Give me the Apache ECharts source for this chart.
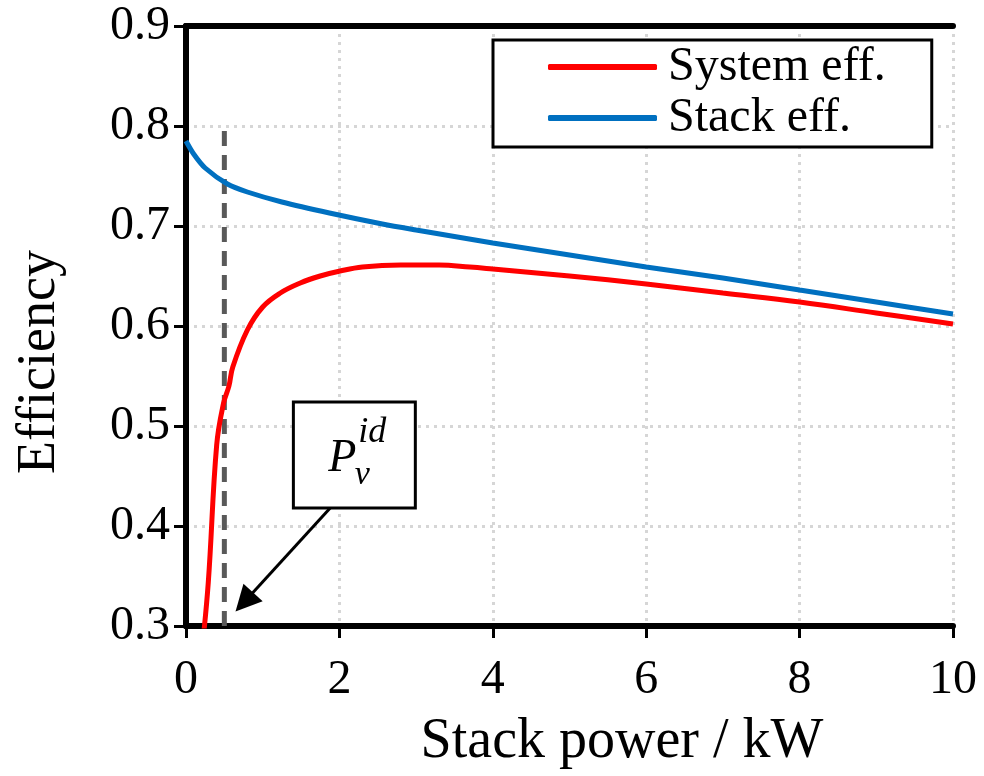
<!DOCTYPE html>
<html>
<head>
<meta charset="utf-8">
<script src="https://cdn.jsdelivr.net/npm/echarts@6/dist/echarts.min.js"></script>
<style>
  html, body { margin: 0; padding: 0; background: #fff; }
  #chart { width: 984px; height: 776px; }
</style>
</head>
<body>
<div id="chart"></div>
<script>
// values
const systemPower = [0.20, 0.29, 0.40, 0.49, 0.56, 0.61, 0.80, 1.0, 1.23, 1.49, 1.75, 2.01, 2.3, 2.8, 3.3, 3.7, 4, 5, 6, 7, 8, 9, 10]
const systemEff = [0.27, 0.343, 0.481, 0.523, 0.54, 0.559, 0.596, 0.619, 0.633, 0.643, 0.65, 0.655, 0.659, 0.661, 0.661, 0.659, 0.657, 0.65, 0.642, 0.633, 0.624, 0.613, 0.602]
const stackPower = [0, 0.1, 0.25, 0.54, 0.8, 1.25, 1.87, 2.56, 3, 4, 5, 6, 7, 8, 9, 10]
const stackEff = [0.785, 0.772, 0.758, 0.742, 0.734, 0.724, 0.713, 0.702, 0.696, 0.683, 0.671, 0.659, 0.648, 0.636, 0.624, 0.612]
const idealPower = [0.5, 0.5]
const idealEff = [0.3, 0.8]
const arrowFrom = [1.88, 0.418]
const arrowTo = [0.76, 0.324]
const labelBox = [[1.40, 0.524], [2.99, 0.418]]

const font = '"Liberation Serif", "Times New Roman", serif'
const chart = echarts.init(document.getElementById('chart'))

const zip = (xs, ys) => xs.map((x, i) => [x, ys[i]])
const frame = { show: true, lineStyle: { color: '#000', width: 6 } }
const ticks = { show: true, length: 12, lineStyle: { color: '#000', width: 3 } }
const dots = { show: true, lineStyle: { color: '#d6d6d6', width: 3, type: [3, 5] } }

chart.setOption({
  animation: false,
  grid: { left: 186, right: 31, top: 26, bottom: 150 },
  legend: {
    orient: 'vertical',
    left: 493, top: 40,
    padding: [3, 46, 5, 55],
    itemGap: 3,
    itemWidth: 109,
    itemHeight: 6,
    icon: 'roundRect',
    borderColor: '#000',
    borderWidth: 3,
    backgroundColor: '#fff',
    textStyle: { fontFamily: font, fontSize: 48, color: '#000', padding: [0, 0, 0, 6] },
    data: ['System eff.', 'Stack eff.']
  },
  xAxis: [
    {
      type: 'value', min: 0, max: 10, interval: 2,
      axisLine: frame, axisTick: ticks, splitLine: dots,
      axisLabel: { fontFamily: font, fontSize: 48, color: '#000', margin: 30 }
    },
    {
      type: 'value', position: 'top', min: 0, max: 10, interval: 2,
      axisLine: frame, axisTick: { show: false }, axisLabel: { show: false }, splitLine: { show: false }
    }
  ],
  yAxis: [
    {
      type: 'value', min: 0.3, max: 0.9, interval: 0.1,
      axisLine: frame, axisTick: ticks, splitLine: dots,
      axisLabel: { fontFamily: font, fontSize: 48, color: '#000', margin: 16, formatter: v => v.toFixed(1) }
    },
    {
      type: 'value', position: 'right', min: 0.3, max: 0.9, interval: 0.1,
      axisLine: frame, axisTick: { show: false }, axisLabel: { show: false }, splitLine: { show: false }
    }
  ],
  series: [
    {
      name: 'ideal', type: 'line', data: zip(idealPower, idealEff),
      symbol: 'none', silent: true, z: 3,
      lineStyle: { color: '#595959', width: 5, type: [15, 9] },
      markLine: {
        silent: true,
        symbol: ['none', 'triangle'],
        symbolSize: 26,
        label: { show: false },
        lineStyle: { color: '#000', width: 3, type: 'solid' },
        data: [[{ coord: arrowFrom }, { coord: arrowTo }]]
      }
    },
    {
      name: 'Stack eff.', type: 'line', data: zip(stackPower, stackEff),
      smooth: 0.3, symbol: 'none', clip: true,
      itemStyle: { color: '#0070c0' },
      lineStyle: { color: '#0070c0', width: 5 }
    },
    {
      name: 'System eff.', type: 'line', data: zip(systemPower, systemEff),
      smooth: 0.4, symbol: 'none', clip: true,
      itemStyle: { color: '#ff0000' },
      lineStyle: { color: '#ff0000', width: 5 }
    }
  ]
})

// annotation box and axis titles
const p0 = chart.convertToPixel({ gridIndex: 0 }, labelBox[0])
const p1 = chart.convertToPixel({ gridIndex: 0 }, labelBox[1])
const cx = (p0[0] + p1[0]) / 2
const cy = (p0[1] + p1[1]) / 2

chart.setOption({
  graphic: [
    {
      type: 'rect', z: 10,
      shape: { x: p0[0], y: p0[1], width: p1[0] - p0[0], height: p1[1] - p0[1] },
      style: { fill: '#fff', stroke: '#000', lineWidth: 3 }
    },
    { type: 'text', z: 11, x: cx - 12, y: cy + 4, style: { text: 'P', font: 'italic 46px "Liberation Serif", serif', fill: '#000', align: 'center', verticalAlign: 'middle' } },
    { type: 'text', z: 11, x: cx + 8, y: cy + 20, style: { text: 'v', font: 'italic 34px "Liberation Serif", serif', fill: '#000', align: 'center', verticalAlign: 'middle' } },
    { type: 'text', z: 11, x: cx + 4, y: cy - 22, style: { text: 'id', font: 'italic 36px "Liberation Serif", serif', fill: '#000', align: 'left', verticalAlign: 'middle' } },
    {
      type: 'text', x: 40, y: 362, rotation: Math.PI / 2,
      style: { text: 'Efficiency', font: '54px ' + font, fill: '#000', align: 'center', verticalAlign: 'middle' }
    },
    {
      type: 'text', x: 622, y: 742,
      style: { text: 'Stack power / kW', font: '56px ' + font, fill: '#000', align: 'center', verticalAlign: 'middle' }
    }
  ]
})
</script>
</body>
</html>
